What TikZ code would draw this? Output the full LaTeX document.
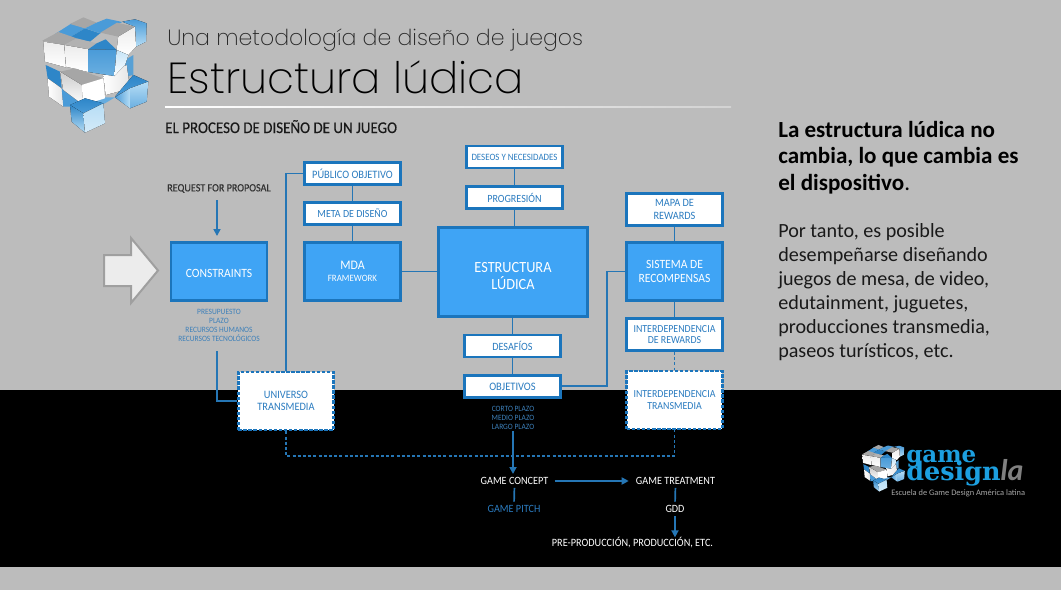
\documentclass[tikz,border=0pt]{standalone}
\usepackage{fontspec}
\usetikzlibrary{arrows.meta}
\setmainfont{Carlito}[FakeStretch=0.92]
\newfontfamily\semifont{Carlito}[FakeBold=0.35,FakeStretch=0.92]
\newfontfamily\titlefont{Poppins ExtraLight}
\newfontfamily\bodyfont{Carlito}
\newfontfamily\logofont{DejaVu Serif}
\definecolor{bggray}{HTML}{BCBCBC}
\definecolor{boxfill}{HTML}{3FA4F5}
\definecolor{boxline}{HTML}{1B75BC}
\definecolor{boxtext}{HTML}{2B7CC0}
\definecolor{subtext}{HTML}{3D80BA}
\definecolor{linkc}{HTML}{2576B5}
\definecolor{cubeA}{HTML}{4A9BD8}
\definecolor{cubeB}{HTML}{2E86C8}
\definecolor{cubeC}{HTML}{B6DDF5}
\definecolor{logoblue}{HTML}{1C9FE0}
\def\px{0.75pt}
\newcommand{\fs}[1]{\pgfmathsetmacro\fsza{#1*0.75}\pgfmathsetmacro\fszb{#1*0.9}\fontsize{\fsza}{\fszb}\selectfont}
% label sizes: stretched face, so the nominal size is raised by the inverse factor
\newcommand{\lf}[1]{\pgfmathsetmacro\fsza{#1*0.815}\pgfmathsetmacro\fszb{#1*0.9}\fontsize{\fsza}{\fszb}\selectfont}
\newcommand{\cubelogo}[4]{%
\begin{scope}[shift={(#1,#2)},x=#3,y=#4,line width=0pt]
 \fill[top color=cubeA,bottom color=cubeC] (262,35)--(300,28)--(335,40)--(333,95)--(303,110)--(300,50)--cycle;
 \fill[cubeA] (60,72)--(110,40)--(150,55)--(100,85)--cycle;
 \fill[cubeB] (100,85)--(150,55)--(195,70)--(165,95)--cycle;
 \fill[gray!70] (105,42)--(145,22)--(185,38)--(150,55)--cycle;
 \fill[cubeA] (185,38)--(215,26)--(262,36)--(196,70)--(150,55)--cycle;
 \fill[gray!70] (196,68)--(246,38)--(300,50)--(250,80)--cycle;
 \fill[top color=white!85!gray,bottom color=white] (250,80)--(300,50)--(303,110)--(280,135)--(245,120)--cycle;
 \fill[cubeB!70!cubeC] (270,150)--(295,135)--(295,195)--(270,200)--cycle;
 \fill[left color=white,right color=gray!20] (205,195)--(275,165)--(285,235)--(212,255)--cycle;
 \fill[top color=cubeB,bottom color=cubeA] (240,260)--(295,195)--(340,215)--(285,235)--cycle;
 \fill[left color=cubeA,right color=cubeC] (240,262)--(285,235)--(285,295)--cycle;
 \fill[top color=cubeC,bottom color=cubeA!70!cubeC] (285,235)--(340,215)--(335,275)--(285,295)--cycle;
 \fill[cubeA!75!cubeC] (145,285)--(210,262)--(240,262)--(210,280)--(150,300)--cycle;
 \fill[gray!70] (22,92)--(70,66)--(125,85)--(88,105)--cycle;
 \fill[gray!60] (88,105)--(125,85)--(185,100)--(160,118)--cycle;
 \fill[cubeB] (160,118)--(185,100)--(212,88)--(245,120)--cycle;
 \fill[top color=gray!15,bottom color=white] (25,95)--(88,105)--(93,172)--(30,155)--cycle;
 \fill[top color=gray!15,bottom color=white] (88,105)--(160,118)--(160,186)--(93,170)--cycle;
 \fill[top color=cubeA,bottom color=cubeA!70!cubeC] (160,118)--(245,120)--(238,198)--(160,186)--cycle;
 \fill[top color=cubeC!80!white,bottom color=white] (245,120)--(280,135)--(270,165)--(238,198)--cycle;
 \fill[cubeB] (32,165)--(75,185)--(80,235)--(38,205)--cycle;
 \fill[left color=white,right color=gray!20] (38,205)--(80,235)--(85,290)--(42,260)--cycle;
 \fill[cubeA] (80,235)--(145,285)--(105,290)--(85,290)--cycle;
 \fill[gray!70] (75,185)--(120,175)--(205,205)--(140,225)--cycle;
 \fill[top color=gray!40,bottom color=white] (75,185)--(140,225)--(145,285)--(85,240)--cycle;
 \fill[white] (140,225)--(205,205)--(210,265)--(145,285)--cycle;
 \fill[top color=cubeB,bottom color=cubeA] (105,285)--(150,265)--(205,280)--(145,310)--cycle;
 \fill[top color=cubeB,bottom color=cubeC] (105,285)--(145,310)--(150,368)--(110,335)--cycle;
 \fill[top color=cubeC,bottom color=cubeC!60!white] (145,310)--(205,280)--(210,340)--(150,368)--cycle;
\end{scope}}
\tikzset{
 x=0.75pt,y=-0.75pt,
 basebox/.style={rectangle,inner sep=0pt,line width=2.6*\px,draw=boxline,align=center},
 bluebox/.style={basebox,fill=boxfill,text=white},
 whitebox/.style={basebox,fill=white,text=boxtext},
 dashbox/.style={whitebox,dash pattern=on 2.6pt off 1.2pt},
 link/.style={draw=linkc,line width=1.7*\px},
 dashlink/.style={link,dash pattern=on 2.25pt off 1.65pt},
 arrowlink/.style={link,-{Triangle[length=5.25pt,width=5.25pt]}},
 lbl/.style={inner sep=0pt,align=center},
 sublbl/.style={lbl,text=subtext,font=\lf{7.45}},
}
\begin{document}
\begin{tikzpicture}
\useasboundingbox (0,0) rectangle (1061,590);
\fill[bggray] (0,0) rectangle (1061,590);
\fill[black] (0,390) rectangle (1061,567);
\cubelogo{35}{10}{.25pt}{-.25pt}
\node[anchor=base west,inner sep=0pt,font=\titlefont\fs{22.05},text=black!85] (t1) at (167,45.5) {Una metodología de diseño de juegos};
\node[anchor=base west,inner sep=0pt,font=\titlefont\fs{43.4},text=black] (t2) at (167,93) {Estructura lúdica};
\fill[left color=white,right color=white!65!gray] (165,106.8) rectangle (731,107.9);
\node[anchor=base west,inner sep=0pt,font=\semifont\lf{15},text=black!90] (t3) at (165,133) {EL PROCESO DE DISEÑO DE UN JUEGO};
% arrow
\draw[fill=white!85!gray,draw=gray!75!white,line width=2*\px] (104,255)--(131,255)--(131,238)--(158,270.5)--(131,303)--(131,286)--(104,286)--cycle;
% boxes
\node[bluebox,minimum width=96*\px,minimum height=58.5*\px,font=\lf{11.6}] (constraints) at (219,271.5) {\rule{0pt}{9pt}CONSTRAINTS};
\node[bluebox,minimum width=96*\px,minimum height=58.5*\px,font=\lf{12}] (mda) at (352.5,271.5) {MDA\\[-2.2pt]{\lf{8.9}FRAMEWORK}};
\node[dashbox,minimum width=95.5*\px,minimum height=58*\px,font=\lf{10.4}] (universo) at (286,401) {UNIVERSO\\TRANSMEDIA};
\node[whitebox,minimum width=96*\px,minimum height=22.5*\px,font=\lf{10.4}] (publico) at (352.5,173.5) {PÚBLICO OBJETIVO};
\node[whitebox,minimum width=96*\px,minimum height=22.5*\px,font=\lf{10}] (meta) at (352.5,213.5) {META DE DISEÑO};
\node[whitebox,minimum width=96*\px,minimum height=22*\px,font=\lf{8.9}] (deseos) at (514.5,157) {DESEOS Y NECESIDADES};
\node[whitebox,minimum width=96*\px,minimum height=22.5*\px,font=\lf{10.1}] (progresion) at (514.5,197.5) {PROGRESIÓN};
\node[bluebox,minimum width=149.5*\px,minimum height=89.5*\px,font=\lf{14.3}] (estructura) at (513,272) {\rule{0pt}{14pt}ESTRUCTURA\\LÚDICA};
\node[whitebox,minimum width=96*\px,minimum height=22*\px,font=\lf{10.2}] (desafios) at (512.5,346) {DESAFÍOS};
\node[whitebox,minimum width=96*\px,minimum height=22.5*\px,font=\lf{10.5}] (objetivos) at (512.5,386.5) {OBJETIVOS};
\node[whitebox,minimum width=96*\px,minimum height=32.5*\px,font=\lf{10.3}] (mapa) at (674.5,209.5) {MAPA DE\\REWARDS};
\node[bluebox,minimum width=96*\px,minimum height=58.5*\px,font=\lf{11.6}] (sistema) at (674.5,271.5) {SISTEMA DE\\RECOMPENSAS};
\node[whitebox,minimum width=96*\px,minimum height=32.5*\px,font=\lf{9.9}] (interrew) at (674.5,334.5) {INTERDEPENDENCIA\\DE REWARDS};
\node[dashbox,minimum width=95.5*\px,minimum height=58*\px,font=\lf{9.9}] (intertrans) at (674.5,400) {INTERDEPENDENCIA\\TRANSMEDIA};
% free labels
\node[lbl,font=\semifont\lf{10.15},text=black!80] (request) at (219,188.5) {REQUEST FOR PROPOSAL};
\node[sublbl] (recursos) at (219,325) {PRESUPUESTO\\PLAZO\\RECURSOS HUMANOS\\RECURSOS TECNOLÓGICOS};
\node[sublbl] (plazos) at (513,417.5) {CORTO PLAZO\\MEDIO PLAZO\\LARGO PLAZO};
\node[lbl,font=\lf{10.2},text=white] (concept) at (514.5,481) {GAME CONCEPT};
\node[lbl,font=\lf{10.2},text=white] (treatment) at (675.5,481) {GAME TREATMENT};
\node[lbl,font=\lf{10.2},text=boxtext] (pitch) at (514,508.5) {GAME PITCH};
\node[lbl,font=\lf{10.2},text=white] (gdd) at (675,508.5) {GDD};
\node[lbl,font=\lf{10.25},text=white] (pre) at (632.5,543) {PRE-PRODUCCIÓN, PRODUCCIÓN, ETC.};
% free ends
\coordinate (reqtop) at (217,200);
\coordinate (reqend) at (217,236);
\coordinate (consdown) at (217,351);
\coordinate (objup) at (607,386);
\coordinate (dashlow) at (480,456);
\coordinate (objdown) at (513,431);
\coordinate (conceptend) at (513,474);
% connectors
\draw[arrowlink] (reqtop) -- (reqend);
\draw[link] (consdown) |- (universo.west);
\draw[link] (universo.north) |- (publico.west);
\draw[link] (publico) -- (meta);
\draw[link] (meta) -- (mda);
\draw[link] (mda.east) -- (mda.east -| estructura.west);
\draw[link] (deseos) -- (progresion);
\draw[link] (progresion.south) -- (progresion.south |- estructura.north);
\draw[link] (desafios.north) -- (desafios.north |- estructura.south);
\draw[link] (desafios) -- (objetivos);
\draw[link] (objetivos.east |- objup) -- (objup) -- (objup |- sistema.west) -- (sistema.west);
\draw[link] (mapa) -- (sistema);
\draw[link] (sistema) -- (interrew);
\draw[dashlink] (interrew.south) -- (intertrans.north);
\draw[dashlink] (universo.south) -- (universo.south |- dashlow) -- (intertrans.south |- dashlow) -- (intertrans.south);
\draw[arrowlink] (objdown) -- (conceptend);
\draw[arrowlink,shorten <=4.5pt,shorten >=5.25pt] (concept.east) -- (treatment.west);
\draw[link,shorten <=2.25pt,shorten >=2.25pt] (concept.south) -- (pitch.north);
\draw[link,shorten <=2.25pt,shorten >=2.25pt] (treatment.south) -- (gdd.north);
\draw[arrowlink,shorten <=3pt] (gdd.south) -- (gdd.south |- pre.north);
% right text
\node[anchor=north west,inner sep=0pt,align=left,font=\bodyfont\fontsize{17.3}{19.9}\selectfont,text=black] (para1) at (778,121) {\textbf{La estructura lúdica no}\\\textbf{cambia, lo que cambia es}\\\textbf{el dispositivo}.};
\node[anchor=north west,inner sep=0pt,align=left,font=\bodyfont\fontsize{15.1}{18}\selectfont,text=black!90] (para2) at (778,223) {Por tanto, es posible\\desempeñarse diseñando\\juegos de mesa, de video,\\edutainment, juguetes,\\producciones transmedia,\\paseos turísticos, etc.};
% logo
\cubelogo{859}{442}{.101pt}{-.101pt}
\node[anchor=base west,inner sep=0pt,font=\logofont\bfseries\fs{23},text=logoblue] (lg1) at (906,462) {game};
\node[anchor=base west,inner sep=0pt,font=\logofont\bfseries\fs{25.5},text=logoblue] (lg2) at (906,480) {design};
\node[anchor=base west,inner sep=0pt,font=\bodyfont\itshape\bfseries\fs{30},text=gray] (lg3) at (1000,480) {la};
\node[anchor=base west,inner sep=0pt,font=\bodyfont\fs{8.4},text=gray!70] (lg4) at (891,495) {Escuela de Game Design América latina};
\end{tikzpicture}
\end{document}
